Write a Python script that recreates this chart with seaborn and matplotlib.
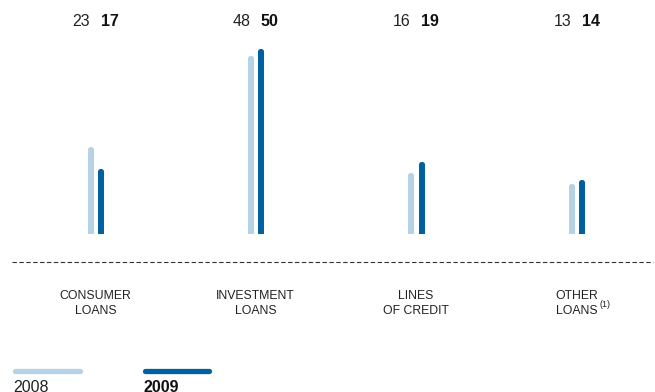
import matplotlib
matplotlib.use("Agg")
import matplotlib.pyplot as plt
import matplotlib.transforms as mtransforms
from matplotlib.lines import Line2D
import pandas as pd
import seaborn as sns

categories = ["CONSUMER\nLOANS", "INVESTMENT\nLOANS", "LINES\nOF CREDIT", "OTHER\nLOANS"]
years = ["2008", "2009"]
values_2008 = [23, 48, 16, 13]
values_2009 = [17, 50, 19, 14]

LIGHT = "#b5d3e5"
DARK = "#0061a1"

df = pd.DataFrame({
    "category": categories * 2,
    "year": [years[0]] * 4 + [years[1]] * 4,
    "value": values_2008 + values_2009,
})

sns.set_style("white")
plt.rcParams["font.family"] = ["Liberation Sans", "DejaVu Sans"]

W, H = 655, 392
fig = plt.figure(figsize=(W / 100, H / 100), dpi=100)

# overlay in pixel coordinates for rules, labels and legend
over = fig.add_axes([0, 0, 1, 1])
over.set_xlim(0, W)
over.set_ylim(H, 0)
over.axis("off")

# bar axes: baseline just above the rounded bottom caps
base_px = 233.5
px_per_unit = 3.66
off = 0.0328
ax = fig.add_axes([12 / W, (H - base_px) / H, 641 / W, base_px / H])
sns.barplot(data=df, x="category", y="value", hue="year", order=categories,
            hue_order=years, palette=[LIGHT, DARK], width=4 * off, gap=0.9,
            saturation=1, legend=False, ax=ax)
for p in ax.patches:
    p.set_edgecolor(p.get_facecolor())
    p.set_linewidth(3.6)
    p.set_joinstyle("round")
ax.set_xlim(-0.52, 3.478)
ax.set_ylim(0, base_px / px_per_unit)
ax.axis("off")

# value labels above each group and category names below the rule
trans = mtransforms.blended_transform_factory(ax.transData, over.transData)
for i, (a, b) in enumerate(zip(values_2008, values_2009)):
    over.text(i - off, 26, str(a), transform=trans, ha="right", va="baseline",
              fontsize=11.5, color="#222222")
    over.text(i + off, 26, str(b), transform=trans, ha="left", va="baseline",
              fontsize=11.5, fontweight="bold", color="#111111")
    over.text(i, 290, categories[i], transform=trans, ha="center", va="top",
              fontsize=8.8, linespacing=1.3, color="#222222")

# footnote marker on the last category
over.text(600, 300, "(1)", ha="left", va="top", fontsize=6.5, color="#222222")

# dashed rule under the bars
over.add_line(Line2D([12, 653], [262, 262], color="#333333", lw=0.8,
                     linestyle=(0, (4, 2.2))))

# legend
over.add_line(Line2D([15, 80], [371, 371], color=LIGHT, lw=3.8,
                     solid_capstyle="round"))
over.add_line(Line2D([145, 209], [371, 371], color=DARK, lw=3.8,
                     solid_capstyle="round"))
over.text(13, 380, "2008", ha="left", va="top", fontsize=11.5, color="#222222")
over.text(143, 380, "2009", ha="left", va="top", fontsize=11.5,
          fontweight="bold", color="#111111")

fig.savefig("out.png", dpi=100)
